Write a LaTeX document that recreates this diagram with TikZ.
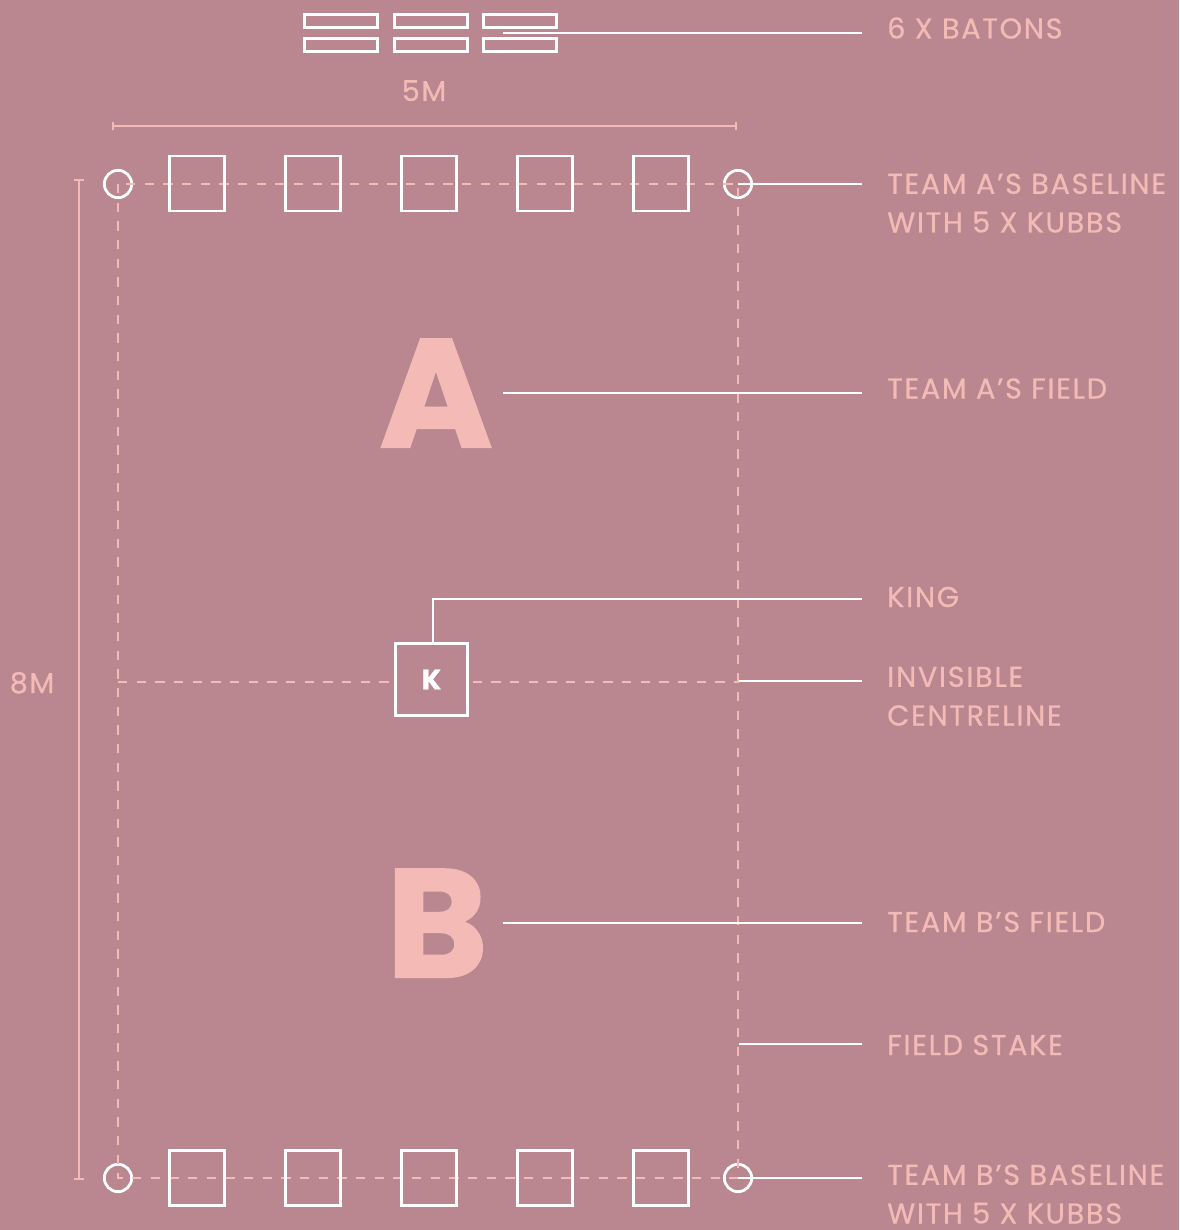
\documentclass[tikz,border=0pt]{standalone}
\usepackage{fontspec}
\setmainfont{Poppins}[LetterSpace=6,FakeBold=0.7]
\newfontfamily\heavyfont{Poppins}[FakeBold=1.5]
\definecolor{bg}{RGB}{186,134,144}
\definecolor{pk}{RGB}{243,186,182}
\begin{document}
\begin{tikzpicture}[x=0.75pt,y=-0.75pt,
  kubb/.style={draw=white,line width=2pt,minimum size=41.25pt,inner sep=0pt},
  baton/.style={draw=white,line width=1.9pt,minimum width=54.75pt,minimum height=10pt,inner sep=0pt},
  stake/.style={circle,draw=white,line width=2.1pt,minimum size=20.5pt,inner sep=0pt},
  dashline/.style={pk,line width=2pt,dash pattern=on 7pt off 7pt},
  leader/.style={white,line width=1.1pt},
  dim/.style={pk,line width=1.9pt},
  lbl/.style={text=pk,font=\fontsize{21.5}{29}\selectfont,anchor=base west,inner sep=0pt,align=left},
  dimlbl/.style={text=pk,font=\fontsize{21.5}{29}\selectfont,anchor=base,inner sep=0pt},
  big/.style={text=pk,font=\heavyfont\bfseries\fontsize{115}{120}\selectfont,anchor=base,inner sep=0pt}]
\useasboundingbox[fill=bg] (0,0) rectangle (1179,1230);

% batons
\node[baton] (b1) at (341,21) {};
\node[baton] (b2) at (431,21) {};
\node[baton] (b3) at (520,21) {};
\node[baton] (b4) at (341,45) {};
\node[baton] (b5) at (431,45) {};
\node[baton] (b6) at (520,45) {};

% dimensions
\coordinate (dl) at (113,126);
\coordinate (dr) at (736,126);
\draw[dim] (dl) -- (dr);
\draw[dim] ([yshift=-3pt]dl) -- ([yshift=3pt]dl);
\draw[dim] ([yshift=-3pt]dr) -- ([yshift=3pt]dr);
\node[dimlbl] (m5) at (424,101) {5M};
\coordinate (vt) at (79,180);
\coordinate (vb) at (79,1179);
\draw[dim] (vt) -- (vb);
\draw[dim] ([xshift=-3.5pt]vt) -- ([xshift=3.5pt]vt);
\draw[dim] ([xshift=-3.5pt]vb) -- ([xshift=3.5pt]vb);
\node[dimlbl] (m8) at (32,693) {8M};

% stakes
\node[stake] (s1) at (118,184) {};
\node[stake] (s2) at (738,184) {};
\node[stake] (s3) at (118,1178) {};
\node[stake] (s4) at (738,1178) {};

% field lines
\draw[dashline] (s1.center) rectangle (s4.center);
\coordinate (cl) at (118,682);
\coordinate (cr) at (738,682);
\draw[dashline] (cl) -- (cr);

% kubbs
\foreach \i/\x in {1/197,2/313,3/429,4/545,5/661}{
  \node[kubb] (ta\i) at (\x,183.5) {};
  \node[kubb] (tb\i) at (\x,1178) {};
}

% king
\node[kubb,minimum size=54.4pt,fill=bg,text=white,font=\bfseries\fontsize{21}{24}\selectfont] (K) at (431.5,679.5) {K};

% big letters
\node[big] (A) at (436,447) {A};
\node[big] (B) at (437,977) {B};

% labels
\node[lbl] (lbat) at (887,38.5) {6 X BATONS};
\node[lbl] (lta) at (887,232.5) {TEAM A’S BASELINE\\WITH 5 X KUBBS};
\node[lbl] (lfa) at (887,398.5) {TEAM A’S FIELD};
\node[lbl] (lk) at (887,607) {KING};
\node[lbl] (lcl) at (887,725.5) {INVISIBLE\\CENTRELINE};
\node[lbl] (lfb) at (887,932) {TEAM B’S FIELD};
\node[lbl] (lfs) at (887,1055) {FIELD STAKE};
\node[lbl] (ltb) at (887,1223.5) {TEAM B’S BASELINE\\WITH 5 X KUBBS};

% leader ends
\coordinate (ebat) at (862,33);
\coordinate (eta) at (862,184);
\coordinate (efa) at (862,393);
\coordinate (ek) at (862,599);
\coordinate (ecl) at (862,681);
\coordinate (efb) at (862,923);
\coordinate (efs) at (862,1044);
\coordinate (etb) at (862,1178);

\coordinate (sbat) at (503,33);
\coordinate (sfa) at (503,393);
\coordinate (sfb) at (503,923);
\coordinate (scl) at (739,681);
\coordinate (sfs) at (739,1044);

\draw[leader] (sbat) -- (ebat);
\draw[leader] (s2.center) -- (eta);
\draw[leader] (sfa) -- (efa);
\draw[leader] ([xshift=1pt]K.north) |- (ek);
\draw[leader] (scl) -- (ecl);
\draw[leader] (sfb) -- (efb);
\draw[leader] (sfs) -- (efs);
\draw[leader] (s4.center) -- (etb);
\end{tikzpicture}
\end{document}
